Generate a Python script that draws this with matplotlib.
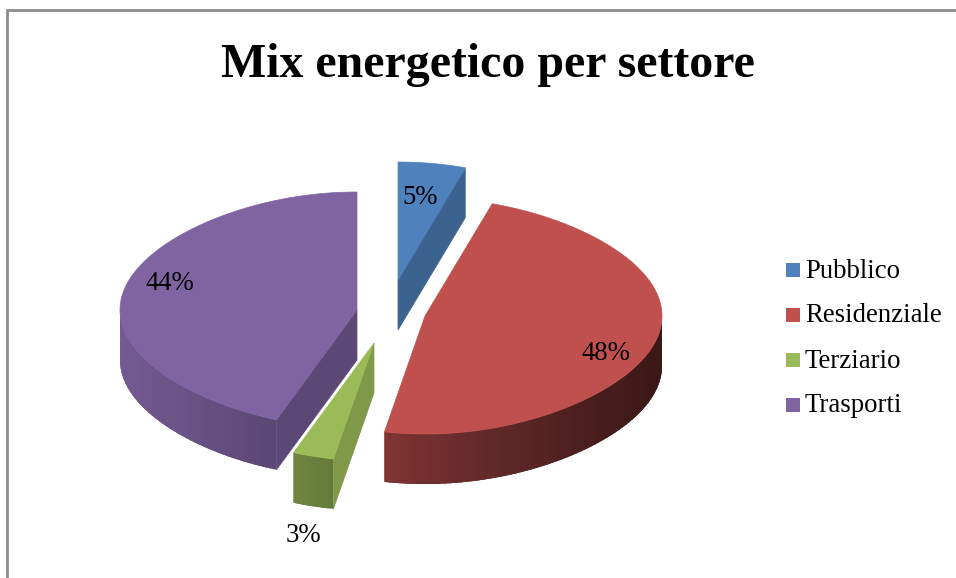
import numpy as np
import matplotlib
matplotlib.use('Agg')
import matplotlib.pyplot as plt
from matplotlib.collections import PolyCollection
from matplotlib.colors import to_rgb
from matplotlib.patches import Rectangle

categories = ['Pubblico', 'Residenziale', 'Terziario', 'Trasporti']
values = [5, 48, 3, 44]
labels = ['5%', '48%', '3%', '44%']
colors = ['#4F81BD', '#C0504D', '#9BBB59', '#8064A2']

# exploded slice apex in pixels (top face)
apex = [(398, 280), (425, 316), (374, 343), (357, 310)]
label_pos = [(420, 197), (606, 354), (303, 535), (170, 284)]
legend_y = [270, 315, 360, 405]

RX, RY, DEPTH = 237, 118, 50
WALL_SHADE = [0.76, 1, 0.82, 0.72]

plt.rcParams['font.family'] = ['Liberation Serif', 'DejaVu Serif']

fig = plt.figure(figsize=(9.56, 5.78), dpi=100)
ax = fig.add_axes([0, 0, 1, 1])
ax.set_xlim(0, 956)
ax.set_ylim(578, 0)
ax.axis('off')


def rim(cx, cy, deg):
    t = np.radians(deg)
    # slightly pinched towards back and front, like the 3D perspective
    x = cx + RX * np.sin(t) * (1 - 0.09 * np.cos(t) ** 2)
    y = cy - RY * np.cos(t)
    return x, y


def shade(c, f):
    return tuple(v * f for v in to_rgb(c))


edges = 3.6 * np.concatenate([[0], np.cumsum(values)])

for i in [3, 0, 2, 1]:
    cx, cy = apex[i]
    t0, t1 = edges[i], edges[i + 1]
    c = colors[i]

    # outer wall, strips overlap the next one so no seams show
    a0, a1 = max(t0, 90), min(t1, 270)
    if a1 > a0:
        steps = np.linspace(a0, a1, int((a1 - a0) / 1.5) + 2)
        strips, strip_colors = [], []
        for s0, s1 in zip(steps[:-1], steps[1:]):
            arc = np.linspace(s0, min(s1 + 2, a1), 6)
            xs, ys = rim(cx, cy, arc)
            strips.append(np.column_stack([np.r_[xs, xs[::-1]], np.r_[ys, ys[::-1] + DEPTH]]))
            f = np.interp(np.sin(np.radians((s0 + s1) / 2)), [-1, -0.2, 1], [0.9, 0.66, 0.3])
            strip_colors.append(shade(c, f))
        ax.add_collection(PolyCollection(strips, facecolors=strip_colors, edgecolors='none'))

    # cut faces that look at the viewer
    if t1 < 180 or t0 > 180:
        t = t1 if t1 < 180 else t0
        x, y = rim(cx, cy, t)
        ax.fill([cx, x, x, cx], [cy, y, y + DEPTH, cy + DEPTH], color=shade(c, WALL_SHADE[i]), lw=0.5)

    # top face
    arc = np.linspace(t0, t1, 120)
    xs, ys = rim(cx, cy, arc)
    ax.fill(np.r_[cx, xs], np.r_[cy, ys], color=c, lw=0.5)

for lab, (x, y) in zip(labels, label_pos):
    ax.text(x, y, lab, fontsize=19.3, ha='center', va='center', color='black')

for name, c, y in zip(categories, colors, legend_y):
    ax.add_patch(Rectangle((786, y - 7), 14, 14, facecolor=c, edgecolor='none'))
    ax.text(805, y + 1, name, fontsize=19.3, ha='left', va='center', color='black')

ax.text(488, 65, 'Mix energetico per settore', fontsize=34.5, fontweight='bold', ha='center', va='center', color='black')

# chart frame, only top and left show in the crop
ax.plot([7, 7, 956], [578, 10, 10], color='#8c8c8c', lw=2, solid_joinstyle='miter', clip_on=False)

fig.savefig('out.png', dpi=100)
